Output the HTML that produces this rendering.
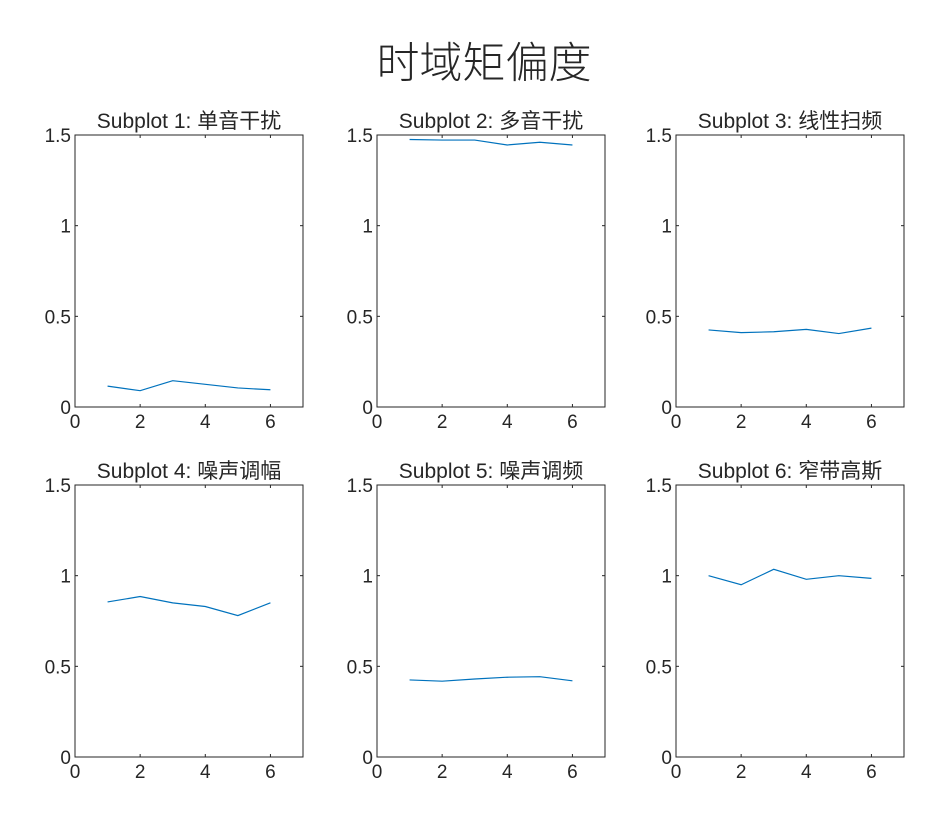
<!DOCTYPE html>
<html><head><meta charset="utf-8"><style>
body{margin:0;background:#fff;}
svg text{font-family:"Liberation Sans","Noto Sans CJK SC",sans-serif;fill:#262626;}
</style></head><body>
<svg id="fig" width="944" height="811" xmlns="http://www.w3.org/2000/svg">
<rect width="944" height="811" fill="#fff"/>
<text x="484" y="78" font-size="43" font-weight="300" text-anchor="middle">时域矩偏度</text>
</svg>
<script>
const titles = ["Subplot 1: 单音干扰","Subplot 2: 多音干扰","Subplot 3: 线性扫频","Subplot 4: 噪声调幅","Subplot 5: 噪声调频","Subplot 6: 窄带高斯"];
const xValues = [1,2,3,4,5,6];
const s1 = [0.115,0.09,0.145,0.125,0.105,0.095];
const s2 = [1.475,1.472,1.472,1.445,1.46,1.445];
const s3 = [0.425,0.41,0.415,0.428,0.405,0.435];
const s4 = [0.855,0.885,0.85,0.83,0.78,0.85];
const s5 = [0.425,0.418,0.43,0.44,0.443,0.42];
const s6 = [1.0,0.95,1.035,0.98,1.0,0.985];
const xTicks = [0,2,4,6];
const yTicks = [0,0.5,1,1.5];
const yTickLabels = ["0","0.5","1","1.5"];
const series = [s1,s2,s3,s4,s5,s6];

const svg = document.getElementById('fig');
const NS = "http://www.w3.org/2000/svg";
function mk(tag, attrs, parent){const e=document.createElementNS(NS,tag);for(const k in attrs)e.setAttribute(k,attrs[k]);(parent||svg).appendChild(e);return e;}
const lefts=[75,377,676], tops=[135,485], W=228, H=272;
series.forEach((data,i)=>{
  const L=lefts[i%3], T=tops[Math.floor(i/3)];
  const sx=v=>L+v/7*W, sy=v=>T+H-v/1.5*H;
  const g=mk('g',{});
  
  
  const box=mk('rect',{x:L,y:T,width:W,height:H,fill:'none',stroke:'#262626','stroke-width':1},g);
  
  
  const t=mk('text',{x:L+W/2,y:T-7,'font-size':21,'text-anchor':'middle'},g);
  t.textContent=titles[i];
  
  
  yTicks.forEach((v,j)=>{
    const y=sy(v);
    mk('line',{x1:L,x2:L+3,y1:y,y2:y,stroke:'#262626'},g);
    mk('line',{x1:L+W,x2:L+W-3,y1:y,y2:y,stroke:'#262626'},g);
    const tl=mk('text',{x:L-4,y:y+7,'font-size':19,'text-anchor':'end'},g);
    tl.textContent=yTickLabels[j];
    
    
  });
  xTicks.forEach(v=>{
    const x=sx(v);
    mk('line',{x1:x,x2:x,y1:T+H,y2:T+H-3,stroke:'#262626'},g);
    mk('line',{x1:x,x2:x,y1:T,y2:T+3,stroke:'#262626'},g);
    const tl=mk('text',{x:x,y:T+H+21,'font-size':19,'text-anchor':'middle'},g);
    tl.textContent=String(v);
    
    
  });
  const pts=data.map((v,k)=>sx(xValues[k])+','+sy(v)).join(' ');
  const pl=mk('polyline',{points:pts,fill:'none',stroke:'#0072BD','stroke-width':1.2},g);
  
  
});
</script>
</body></html>
